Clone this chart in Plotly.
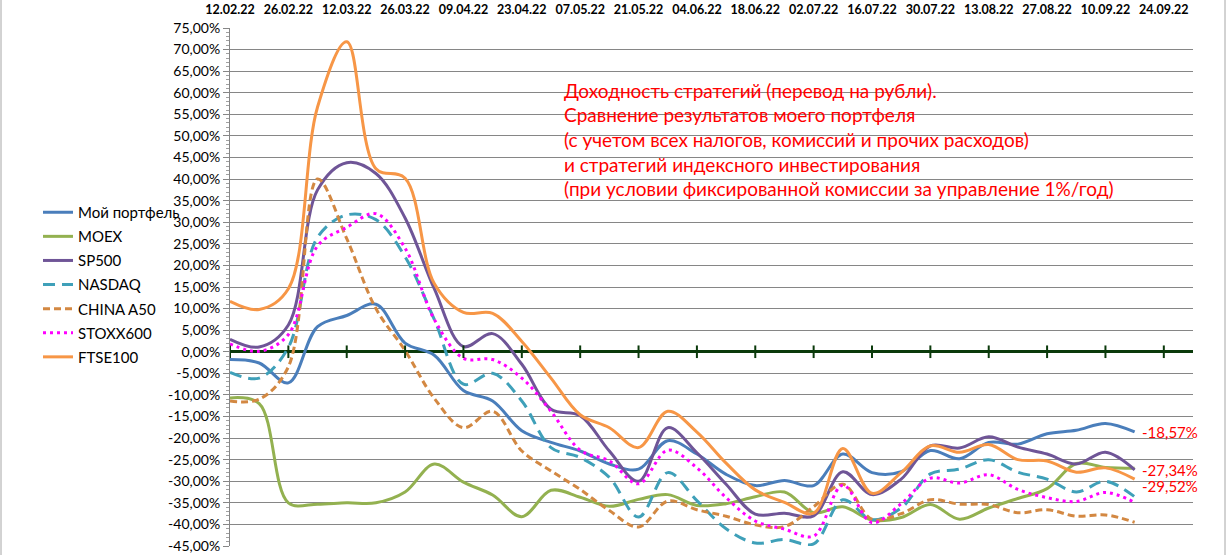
import plotly.graph_objects as go
from datetime import date, timedelta

# ---- data ----
start = date(2022, 2, 12)
weeks = [(start + timedelta(days=7 * i)).strftime("%d.%m.%y") for i in range(34)]
label_weeks = list(range(0, 34, 2))

portfolio = [-1.8, -2.6, -7.2, 5.8, 8.4, 11.0, 2.0, -0.8, -9.0, -11.4, -18.3, -21.0, -23.0, -26.0, -27.2, -20.6,
             -23.7, -28.4, -31.0, -29.8, -31.0, -23.7, -28.0, -27.8, -22.9, -24.8, -21.0, -21.4, -19.0, -18.2, -16.6, -18.57]
moex = [-10.7, -12.0, -35.0, -35.3, -35.0, -35.0, -32.5, -26.0, -30.2, -33.2, -38.2, -32.1, -33.7, -35.8, -34.2, -33.1,
        -35.6, -35.2, -33.6, -32.5, -37.3, -35.9, -39.0, -38.4, -35.4, -38.8, -36.2, -34.0, -31.7, -25.9, -26.8, -27.0]
sp500 = [2.9, 1.1, 6.2, 37.5, 43.8, 41.3, 31.0, 14.6, 1.2, 4.2, -2.9, -13.3, -14.8, -23.0, -30.0, -17.6,
         -23.4, -30.7, -37.6, -37.4, -38.0, -27.8, -33.1, -29.5, -21.8, -22.3, -19.7, -22.1, -23.7, -26.0, -23.3, -27.34]
nasdaq = [-4.8, -6.1, 1.0, 26.5, 31.7, 30.6, 22.0, 7.5, -7.5, -5.0, -11.4, -22.2, -24.5, -29.1, -38.3, -28.0,
          -34.5, -41.0, -44.3, -43.5, -44.5, -34.3, -38.9, -36.2, -28.3, -27.2, -25.0, -27.9, -29.5, -32.5, -30.0, -33.6]
china = [-11.4, -11.0, -3.5, 40.0, 26.2, 10.0, 0.3, -10.8, -17.6, -13.8, -23.0, -27.6, -31.9, -36.8, -40.6, -34.6,
         -36.6, -38.1, -40.1, -40.5, -35.9, -30.7, -38.8, -37.5, -34.3, -35.3, -35.4, -37.3, -36.6, -38.1, -37.8, -39.5]
stoxx = [1.8, 0.1, 4.0, 24.5, 28.8, 32.0, 24.0, 7.5, -1.5, -1.8, -6.1, -13.8, -22.8, -25.3, -30.6, -22.8,
         -26.9, -33.8, -39.2, -41.1, -42.7, -30.9, -39.6, -35.2, -29.3, -30.4, -28.5, -31.9, -33.8, -34.7, -32.6, -34.9]
ftse = [11.7, 9.8, 14.6, 56.7, 71.8, 42.4, 40.2, 15.8, 9.1, 8.9, 2.4, -6.1, -14.6, -17.6, -22.2, -13.8,
        -18.6, -25.8, -32.0, -34.9, -37.4, -22.4, -32.8, -28.0, -21.8, -23.3, -21.5, -25.0, -25.3, -27.9, -26.9, -29.52]

series_names = ["Мой портфель", "MOEX", "SP500", "NASDAQ", "CHINA A50", "STOXX600", "FTSE100"]
series_values = [portfolio, moex, sp500, nasdaq, china, stoxx, ftse]

y_ticks = list(range(-45, 80, 5))
y_ticktext = [f"{v:.2f}%".replace(".", ",") for v in y_ticks]

note_lines = [
    "Доходность стратегий (перевод на рубли).",
    "Сравнение результатов моего портфеля",
    "(с учетом всех налогов, комиссий и прочих расходов)",
    "и стратегий индексного инвестирования",
    "(при условии фиксированной комиссии за управление 1%/год)",
]
end_labels = [(portfolio[-1], 0), (sp500[-1], 0), (ftse[-1], -7)]

# ---- styles ----
colors = ["#4A7EBB", "#93B150", "#6F5597", "#3FA0B9", "#D38842", "#FF00FF", "#F79646"]
dashes = ["solid", "solid", "solid", "12px,7px", "7px,4px", "3px,4px", "solid"]
FONT = "Lato"

# plot-area geometry (pixels)
L, R, T, B = 230, 34, 28, 9
PW, PH = 1227 - L - R, 555 - T - B
bottom_px = 555 - B

fig = go.Figure()

x_idx = list(range(len(portfolio)))
for name, vals, col, dsh in zip(series_names, series_values, colors, dashes):
    fig.add_trace(go.Scatter(
        x=x_idx, y=vals, name=name, mode="lines", legendgroup=name,
        line=dict(color=col, width=3, dash=dsh, shape="spline", smoothing=1.0),
        hoverinfo="skip",
    ))

# tick marks on the zero axis line
fig.add_trace(go.Scatter(
    x=label_weeks, y=[0] * len(label_weeks), mode="markers", showlegend=False, hoverinfo="skip",
    marker=dict(symbol="line-ns", size=9, line=dict(width=2, color="#0B3A0B"), color="#0B3A0B"),
))

for i, line in enumerate(note_lines):
    fig.add_annotation(
        xref="paper", yref="paper", x=(562 - L) / PW, y=(bottom_px - (90 + 24.7 * i)) / PH,
        xanchor="left", yanchor="middle", text=line, showarrow=False,
        font=dict(family=FONT, size=19, color="#FF0000"),
    )

for val, ys in end_labels:
    fig.add_annotation(
        x=len(portfolio) - 1, y=val, xref="x", yref="y", xanchor="left", yanchor="middle",
        xshift=5, yshift=ys, showarrow=False, text=f"{val:.2f}%".replace(".", ","),
        font=dict(family=FONT, size=15, color="#FF0000"),
    )

# chart-area border lines (left and right)
for px in (1, 1225):
    fig.add_shape(type="line", xref="paper", yref="paper",
                  x0=(px - L) / PW, x1=(px - L) / PW, y0=-B / PH, y1=bottom_px / PH,
                  line=dict(color="#A6A6A6", width=1))

fig.update_layout(
    width=1227, height=555,
    margin=dict(l=L, r=R, t=T, b=B, autoexpand=False),
    paper_bgcolor="white", plot_bgcolor="white",
    font=dict(family=FONT, size=14, color="#000000"),
    showlegend=True,
    legend=dict(
        x=(38 - L) / PW, xanchor="left", y=(bottom_px - 196) / PH, yanchor="top",
        font=dict(family=FONT, size=15, color="#000000"),
        bgcolor="rgba(0,0,0,0)", tracegroupgap=1.6,
    ),
    xaxis=dict(
        range=[0, 33], side="top", automargin=False,
        tickmode="array", tickvals=label_weeks, ticktext=[weeks[i] for i in label_weeks],
        tickfont=dict(family=FONT, size=12.5, color="#000000", weight="bold"),
        showgrid=False, showline=False, zeroline=False,
        ticks="outside", ticklen=8, tickcolor="rgba(0,0,0,0)",
    ),
    yaxis=dict(
        range=[-45, 75], tickmode="array", tickvals=y_ticks, ticktext=y_ticktext,
        automargin=False,
        tickfont=dict(family=FONT, size=14, color="#000000"),
        ticklabeloverflow="allow",
        showgrid=True, gridcolor="#868686", gridwidth=1,
        showline=True, linecolor="#868686", linewidth=1,
        ticks="outside", ticklen=6, tickcolor="#868686",
        minor=dict(tickmode="linear", tick0=0, dtick=1, ticks="outside", ticklen=3,
                   tickcolor="#A0A0A0", showgrid=False),
        zeroline=True, zerolinecolor="#0B3A0B", zerolinewidth=3,
    ),
)

fig.write_html("out.html")
